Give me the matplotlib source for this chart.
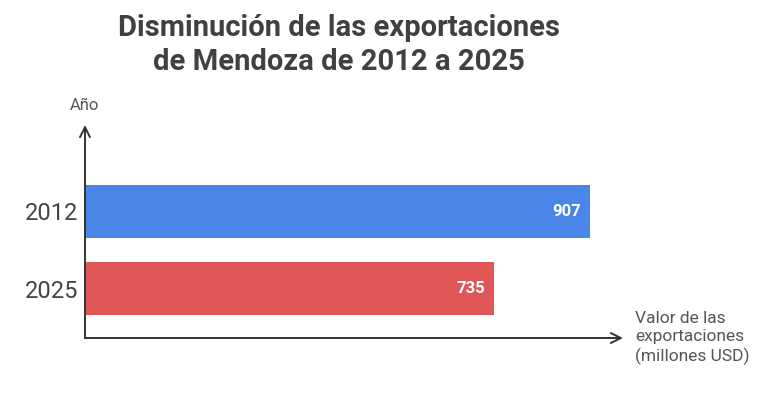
import matplotlib
matplotlib.use("Agg")
import matplotlib.pyplot as plt

years = ["2012", "2025"]
values = [907, 735]
colors = ["#4A86E8", "#E05555"]

plt.rcParams['font.family'] = ['Roboto', 'DejaVu Sans']

fig = plt.figure(figsize=(7.68, 3.98), dpi=100)
W, H = 768, 398
x0, y0, x1, y1 = 85, 338, 623, 125
ax = fig.add_axes([x0 / W, (H - y0) / H, (x1 - x0) / W, (y0 - y1) / H])

pos = [1, 0]
ax.barh(pos, values, height=0.69, color=colors)
ax.set_xlim(0, (x1 - x0) / 0.5568)
ax.set_ylim(-49.5 / 77, (213 - 49.5) / 77)

for p, v in zip(pos, values):
    ax.text(v - 17, p, str(v), ha='right', va='center', color='white',
            fontsize=12, fontweight='bold')

ax.set_yticks(pos)
ax.set_yticklabels(years, fontsize=17, color='#444444')
ax.tick_params(axis='y', length=0, pad=5)
ax.set_xticks([])
for s in ax.spines.values():
    s.set_visible(False)

ax.annotate('', xy=(1.0, 0), xytext=(0, 0), xycoords='axes fraction',
            arrowprops=dict(arrowstyle='->', color='#333333', lw=1.4,
                            mutation_scale=18, shrinkA=0, shrinkB=0))
ax.annotate('', xy=(0, 1.0), xytext=(0, 0), xycoords='axes fraction',
            arrowprops=dict(arrowstyle='->', color='#333333', lw=1.4,
                            mutation_scale=18, shrinkA=0, shrinkB=0))

fig.text(85 / W, 1 - 105 / H, 'Año', ha='center', va='center', fontsize=12, color='#555555')
fig.text(635 / W, 1 - 338 / H, 'Valor de las\nexportaciones\n(millones USD)',
         ha='left', va='center', fontsize=12.5, color='#555555', linespacing=1.25)

fig.text(339 / W, 1 - 45 / H, 'Disminución de las exportaciones\nde Mendoza de 2012 a 2025',
         ha='center', va='center', fontsize=21, fontweight='bold', color='#404040',
         linespacing=1.3)

fig.savefig('out.png', dpi=100)
